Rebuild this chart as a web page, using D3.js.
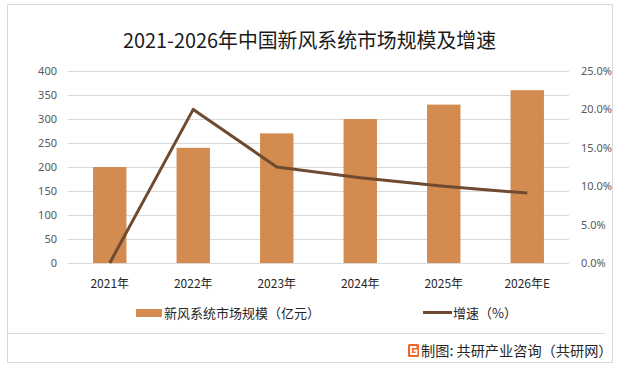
<!DOCTYPE html>
<html><head><meta charset="utf-8">
<script src="https://cdn.jsdelivr.net/npm/d3@7/dist/d3.min.js"></script>
<style>
html,body{margin:0;padding:0;background:#fff;}
text{font-family:"Noto Sans CJK SC","Microsoft YaHei",sans-serif;}
</style></head>
<body><svg id="c" width="619" height="366"></svg>
<script>
const categories = ["2021年","2022年","2023年","2024年","2025年","2026年E"];
const marketSize = [200, 240, 270, 300, 330, 360];
const growthRate = [0, 20.0, 12.5, 11.1, 10.0, 9.1];
const leftTicks = [0, 50, 100, 150, 200, 250, 300, 350, 400];
const rightTicks = [0, 5, 10, 15, 20, 25];
const titleText = "2021-2026年中国新风系统市场规模及增速";
const legendBar = "新风系统市场规模（亿元）";
const legendLine = "增速（%）";
const footerText = "制图: 共研产业咨询（共研网）";

const svg = d3.select("#c");
const L = 68, R = 569, T = 71, B = 263;

// frame
svg.append("rect").attr("x",7.5).attr("y",4.5).attr("width",605).attr("height",358)
  .attr("fill","none").attr("stroke","#d9d9d9");
svg.append("line").attr("x1",7.5).attr("x2",605).attr("y1",333.5).attr("y2",333.5)
  .attr("stroke","#d9d9d9");

const title = svg.append("text").attr("x",309.5).attr("y",48).attr("text-anchor","middle")
  .attr("font-size",20).attr("fill","#1a1a1a").text(titleText);
const tl = title.node().getComputedTextLength();
if (tl > 0) title.attr("textLength",373).attr("lengthAdjust","spacingAndGlyphs");

const x = d3.scaleBand().domain(categories).range([L,R]).paddingInner(0.6).paddingOuter(0.3);
const y = d3.scaleLinear().domain([0,400]).range([B,T]);
const y2 = d3.scaleLinear().domain([0,25]).range([B,T]);

// gridlines
svg.append("g").selectAll("line").data(leftTicks).join("line")
  .attr("x1",L).attr("x2",R)
  .attr("y1",d=>Math.round(y(d))+0.5).attr("y2",d=>Math.round(y(d))+0.5)
  .attr("stroke","#d9d9d9").attr("stroke-width",1);

// left axis
const la = svg.append("g").attr("transform",`translate(${L},0)`)
  .call(d3.axisLeft(y).tickValues(leftTicks).tickSize(0).tickPadding(11));
la.select(".domain").remove();
la.selectAll("text").attr("font-size",11).attr("fill","#595959")
  .style("font-family","'Noto Sans','DejaVu Sans',sans-serif");

// right axis
const ra = svg.append("g").attr("transform",`translate(${R},0)`)
  .call(d3.axisRight(y2).tickValues(rightTicks).tickSize(0).tickPadding(12)
    .tickFormat(d=>d3.format(".1f")(d)+"%"));
ra.select(".domain").remove();
ra.selectAll("text").attr("font-size",11).attr("fill","#595959")
  .style("font-family","'Noto Sans','DejaVu Sans',sans-serif");

// bars
svg.append("g").selectAll("rect").data(marketSize).join("rect")
  .attr("x",(d,i)=>x(categories[i])).attr("width",x.bandwidth())
  .attr("y",d=>y(d)).attr("height",d=>B-y(d)).attr("fill","#d38b4f");

// x axis
const xa = svg.append("g").attr("transform",`translate(0,${B})`)
  .call(d3.axisBottom(x).tickSize(0).tickPadding(16));
xa.select(".domain").remove();
xa.selectAll("text").attr("font-size",12).attr("fill","#262626");

// line
const line = d3.line().x((d,i)=>x(categories[i])+x.bandwidth()/2).y(d=>y2(d));
svg.append("path").datum(growthRate).attr("d",line).attr("fill","none")
  .attr("stroke","#6e4b30").attr("stroke-width",3).attr("stroke-linejoin","round");

// legend
svg.append("rect").attr("x",136).attr("y",309).attr("width",26).attr("height",8).attr("fill","#d38b4f");
svg.append("text").attr("x",164).attr("y",318).attr("font-size",13).attr("fill","#262626").text(legendBar);
svg.append("line").attr("x1",423).attr("x2",452).attr("y1",312.5).attr("y2",312.5)
  .attr("stroke","#6e4b30").attr("stroke-width",3);
svg.append("text").attr("x",453).attr("y",318).attr("font-size",13).attr("fill","#262626").text(legendLine);

// footer logo
const lg = svg.append("g").attr("transform","translate(408,344)");
lg.append("rect").attr("width",11).attr("height",13).attr("rx",1.5).attr("fill","#f0662a");
lg.append("path").attr("d","M8.5,3 H3 V10 H8.5 V6.5 H5.5").attr("fill","none").attr("stroke","#fff").attr("stroke-width",1.8);
svg.append("text").attr("x",421).attr("y",356).attr("font-size",14.2).attr("fill","#262626").text(footerText);
</script></body></html>
